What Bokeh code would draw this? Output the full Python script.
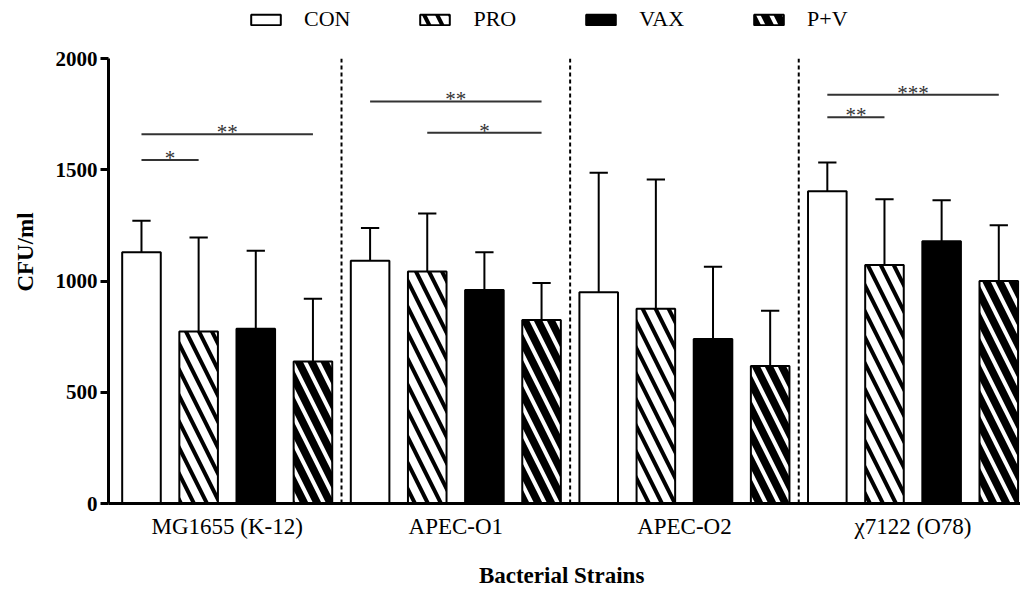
from bokeh.plotting import figure
from bokeh.models import ColumnDataSource, FixedTicker, Legend, LegendItem
from bokeh.core.properties import value
from bokeh.embed import file_html
from bokeh.resources import INLINE

# ---------------- data ----------------
strains = ["MG1655 (K-12)", "APEC-O1", "APEC-O2", "\u03c77122 (O78)"]
treatments = ["CON", "PRO", "VAX", "P+V"]

con_mean = [1130, 1092, 950, 1404]
con_err = [142, 147, 537, 129]
pro_mean = [773, 1043, 876, 1073]
pro_err = [423, 261, 581, 295]
vax_mean = [786, 960, 740, 1179]
vax_err = [351, 170, 325, 185]
pv_mean = [639, 825, 618, 1001]
pv_err = [282, 167, 249, 250]

means = [con_mean, pro_mean, vax_mean, pv_mean]
errs = [con_err, pro_err, vax_err, pv_err]

# significance brackets: strain index, from treatment, to treatment, height, label
sig_strain = [0, 0, 1, 1, 3, 3]
sig_from = [0, 0, 0, 1, 0, 0]
sig_to = [1, 3, 3, 3, 1, 3]
sig_y = [1545, 1661, 1808, 1667, 1737, 1838]
sig_label = ["*", "**", "**", "*", "**", "***"]

y_ticks = [0, 500, 1000, 1500, 2000]
y_max = 2000

# ---------------- styles ----------------
FONT = "Liberation Serif"
n_tr = len(treatments)
bar_w = 0.675
cap_half = 0.16

styles = [
    dict(fill_color="white", hatch_pattern=None),
    dict(fill_color="white", hatch_pattern="\\", hatch_color="black", hatch_weight=4, hatch_scale=26),
    dict(fill_color="black", hatch_pattern=None),
    dict(fill_color="black", hatch_pattern="\\", hatch_color="white", hatch_weight=4, hatch_scale=26),
]

# frame reaches the top of the canvas so the legend can sit above the 2000 line
p = figure(width=1020, height=592, x_range=(-0.577, 15.38), y_range=(0, 2262),
           output_backend="svg", toolbar_location=None,
           min_border_left=108, min_border_right=0, min_border_top=0, min_border_bottom=89)
p.outline_line_color = None
p.xgrid.grid_line_color = None
p.ygrid.grid_line_color = None
p.background_fill_color = "white"
p.border_fill_color = "white"

renderers = []
for s in range(n_tr):
    xs = [g * n_tr + s for g in range(len(strains))]
    tops = means[s]
    ups = [m + e for m, e in zip(means[s], errs[s])]
    src = ColumnDataSource(dict(x=xs, top=tops, up=ups,
                                cl=[x - cap_half for x in xs], cr=[x + cap_half for x in xs]))
    p.segment(x0="x", y0="top", x1="x", y1="up", source=src, line_color="black", line_width=2)
    p.segment(x0="cl", y0="up", x1="cr", y1="up", source=src, line_color="black", line_width=2)
    st = styles[s]
    kw = dict(fill_color=st["fill_color"])
    if st["hatch_pattern"]:
        kw.update(hatch_pattern=st["hatch_pattern"], hatch_color=st["hatch_color"],
                  hatch_weight=st["hatch_weight"], hatch_scale=st["hatch_scale"])
    r = p.vbar(x="x", top="top", width=bar_w, bottom=0, source=src,
               line_color="black", line_width=2, **kw)
    renderers.append(r)

# group separators (from 0 to the top of the axis)
sep_x = [g * n_tr - 0.5 for g in range(1, len(strains))]
p.segment(x0=sep_x, y0=[0] * len(sep_x), x1=sep_x, y1=[y_max] * len(sep_x),
          line_color="black", line_width=2, line_dash="4 3")

# significance brackets
sx0 = [g * n_tr + a for g, a in zip(sig_strain, sig_from)]
sx1 = [g * n_tr + b for g, b in zip(sig_strain, sig_to)]
sxm = [(a + b) / 2 for a, b in zip(sx0, sx1)]
sig_src = ColumnDataSource(dict(x0=sx0, x1=sx1, xm=sxm, y=sig_y, lab=sig_label))
p.segment(x0="x0", y0="y", x1="x1", y1="y", source=sig_src, line_color="#333333", line_width=2)
p.text(x="xm", y="y", text="lab", source=sig_src, text_align="center", text_baseline="alphabetic",
       text_font=value(FONT), text_font_size="21px", text_color="#333333", y_offset=-2)

# axes
p.yaxis.ticker = FixedTicker(ticks=y_ticks)
p.yaxis.bounds = (0, y_max)
p.yaxis.axis_line_width = 3
p.yaxis.major_tick_line_width = 3
p.yaxis.major_tick_out = 8
p.yaxis.major_tick_in = 0
p.yaxis.minor_tick_line_color = None
p.yaxis.major_label_text_font = FONT
p.yaxis.major_label_text_font_style = "bold"
p.yaxis.major_label_text_font_size = "21px"
p.yaxis.major_label_text_color = "black"
p.yaxis.major_label_standoff = 3
p.yaxis.axis_label = "CFU/ml"
p.yaxis.axis_label_text_font = FONT
p.yaxis.axis_label_text_font_style = "bold"
p.yaxis.axis_label_text_font_size = "23px"
p.yaxis.axis_label_text_color = "black"
p.yaxis.axis_label_standoff = 15

centers = [g * n_tr + (n_tr - 1) / 2 for g in range(len(strains))]
p.xaxis.ticker = FixedTicker(ticks=centers)
p.xaxis.major_label_overrides = {c: s for c, s in zip(centers, strains)}
p.xaxis.axis_line_width = 3
p.xaxis.major_tick_line_color = None
p.xaxis.minor_tick_line_color = None
p.xaxis.major_label_text_font = FONT
p.xaxis.major_label_text_font_size = "23px"
p.xaxis.major_label_text_color = "black"
p.xaxis.major_label_standoff = 4
p.xaxis.axis_label = "Bacterial  Strains"
p.xaxis.axis_label_text_font = FONT
p.xaxis.axis_label_text_font_style = "bold"
p.xaxis.axis_label_text_font_size = "23px"
p.xaxis.axis_label_text_color = "black"
p.xaxis.axis_label_standoff = 21

legend = Legend(items=[LegendItem(label=t, renderers=[r]) for t, r in zip(treatments, renderers)],
                orientation="horizontal", location=(139, 471),
                glyph_width=37, glyph_height=13, label_standoff=20, spacing=66,
                padding=0, margin=0, border_line_color=None, background_fill_alpha=0,
                label_text_font=FONT, label_text_font_size="22px", label_text_color="black")
p.add_layout(legend, "center")

open("out.html", "w").write(file_html(p, INLINE))
